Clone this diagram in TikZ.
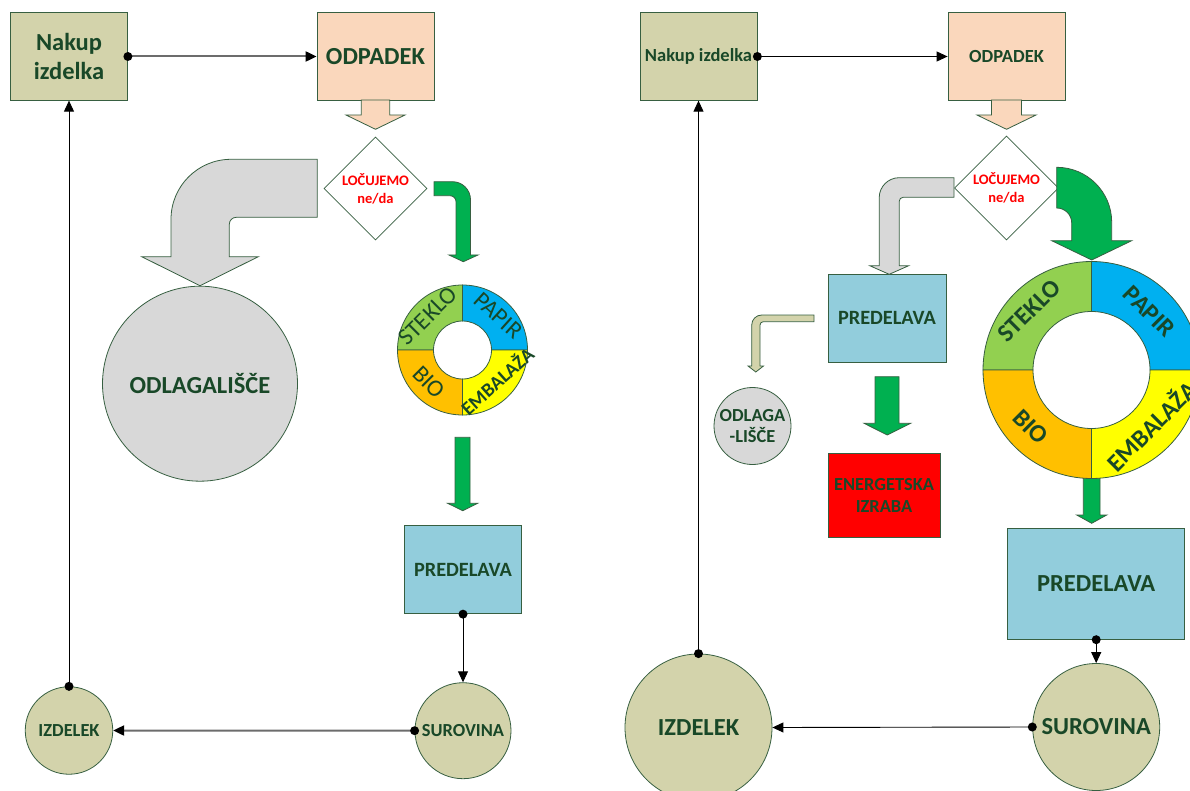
\documentclass[tikz,border=0pt]{standalone}
\usepackage{fontspec}
\setmainfont{Carlito}
\usetikzlibrary{arrows.meta,shapes.geometric}

\definecolor{edge}{RGB}{55,95,65}
\definecolor{txt}{RGB}{25,72,40}
\definecolor{tanfill}{RGB}{211,211,171}
\definecolor{peach}{RGB}{250,215,188}
\definecolor{ash}{RGB}{216,216,216}
\definecolor{sky}{RGB}{146,205,220}
\definecolor{leaf}{RGB}{0,176,80}
\definecolor{glass}{RGB}{146,208,80}
\definecolor{paper}{RGB}{0,176,240}
\definecolor{biowaste}{RGB}{255,192,0}
\definecolor{pack}{RGB}{255,255,0}

\tikzset{
	box/.style={draw=edge,line width=0.8pt,inner sep=0pt,align=center,text=txt,
		font=\bfseries\fontsize{24.5}{29}\selectfont},
	blob/.style={box,circle},
	blockarrow/.style={draw=edge,line width=0.8pt},
	ringthin/.style={inner sep=0pt,text=txt,font=\fontsize{24}{24}\selectfont},
	ringbold/.style={inner sep=0pt,text=txt,font=\bfseries\fontsize{25}{25}\selectfont},
	link/.style={line width=0.9pt,-{Triangle[length=11pt,width=10pt]}},
	greylink/.style={link,draw=gray!85!black,line width=2pt,-{Triangle[length=11pt,width=10pt,color=black]}}
}

\begin{document}
\begin{tikzpicture}[x=1pt,y=-1pt]
	\useasboundingbox (0,0) rectangle (1190,791);
	
	%left boxes
	\node[box,fill=tanfill,minimum width=117,minimum height=87.5] (nak1) at (69,56.5) {Nakup\\izdelka};
	\node[box,fill=peach,minimum width=117,minimum height=87.5] (odp1) at (375.5,56.5) {ODPADEK};
	\node[box,diamond,fill=white,minimum width=103,minimum height=103,text=red,
		font=\bfseries\fontsize{14.5}{18}\selectfont] (loc1) at (375.5,188.5) {LOČUJEMO\\ne/da};
	\node[blob,fill=ash,minimum size=195] (odl1) at (200,383.7) {ODLAGALIŠČE};
	\coordinate (R1) at (462.5,350);
	\node[box,fill=sky,minimum width=117,minimum height=88.5,
		font=\bfseries\fontsize{20.3}{24}\selectfont] (pred1) at (463,569.5) {PREDELAVA};
	\node[blob,fill=tanfill,minimum size=96,font=\bfseries\fontsize{18.4}{22}\selectfont] (sur1) at (463,730.7) {SUROVINA};
	\node[blob,fill=tanfill,minimum size=87.5,font=\bfseries\fontsize{18.4}{22}\selectfont] (izd1) at (69,730.5) {IZDELEK};
	
	%right boxes
	\node[box,fill=tanfill,minimum width=117,minimum height=87.5,
		font=\bfseries\fontsize{18.5}{22}\selectfont] (nak2) at (698.5,56.5) {Nakup izdelka};
	\node[box,fill=peach,minimum width=117,minimum height=87.5,
		font=\bfseries\fontsize{18.5}{22}\selectfont] (odp2) at (1006.5,56.5) {ODPADEK};
	\node[box,diamond,fill=white,minimum width=104,minimum height=104,text=red,
		font=\bfseries\fontsize{14.5}{18}\selectfont] (loc2) at (1006.5,188) {LOČUJEMO\\ne/da};
	\node[box,fill=sky,minimum width=118,minimum height=88,
		font=\bfseries\fontsize{20.3}{24}\selectfont] (pred2) at (887,318.3) {PREDELAVA};
	\node[blob,fill=ash,minimum size=77,font=\bfseries\fontsize{18.4}{21.7}\selectfont] (odl2) at (752.5,426) {ODLAGA\\-LIŠČE};
	\node[box,fill=red,minimum width=112,minimum height=83.6,
		font=\bfseries\fontsize{18.4}{22.7}\selectfont] (ener) at (884,495.5) {ENERGETSKA\\IZRABA};
	\coordinate (R2) at (1091.5,370);
	\node[box,fill=sky,minimum width=177,minimum height=110.6] (pred3) at (1096.2,584) {PREDELAVA};
	\node[blob,fill=tanfill,minimum size=127] (sur2) at (1096.2,727) {SUROVINA};
	\node[blob,fill=tanfill,minimum size=147] (izd2) at (698.5,727.5) {IZDELEK};
	
	%left block arrows
	\filldraw[blockarrow,fill=peach] (361.3,100) -- (361.3,115) -- (346,115) -- (375.5,129.3) -- (405,115) -- (389.7,115) -- (389.7,100) -- cycle;
	\filldraw[blockarrow,fill=ash] (317.3,159.3) -- (231,159.3) arc[start angle=-90,end angle=-180,radius=60]
		-- (171,256.7) -- (141.7,256.7) -- (200,285.7) -- (258.3,256.7) -- (229.3,256.7) -- (229.3,224.3)
		arc[start angle=-180,end angle=-90,radius=7] -- (317.3,217.3) -- cycle;
	\filldraw[blockarrow,fill=leaf] (434,181.7) -- (452.5,181.7) arc[start angle=-90,end angle=0,radius=18]
		-- (470.5,255) -- (478,255) -- (463.3,261.7) -- (449,255) -- (456,255) -- (456,201.7)
		arc[start angle=0,end angle=-90,radius=6] -- (434,195.7) -- cycle;
	\filldraw[blockarrow,fill=leaf] (455,437.3) -- (455,503.3) -- (447.7,503.3) -- (462.7,510.7) -- (477.7,503.3) -- (470,503.3) -- (470,437.3) -- cycle;
	
	%right block arrows
	\filldraw[blockarrow,fill=peach] (991.5,100) -- (991.5,115) -- (977,115) -- (1006.5,129.3) -- (1036,115) -- (1021.5,115) -- (1021.5,100) -- cycle;
	\filldraw[blockarrow,fill=ash] (954,177.7) -- (899.2,177.7) arc[start angle=-90,end angle=-180,radius=20]
		-- (879.2,265.7) -- (869.7,265.7) -- (889.2,274.3) -- (908.7,265.7) -- (899.2,265.7) -- (899.2,201.3)
		arc[start angle=-180,end angle=-90,radius=4] -- (954,197.3) -- cycle;
	\filldraw[blockarrow,fill=tanfill] (814,315) -- (761.7,315) arc[start angle=-90,end angle=-180,radius=10]
		-- (751.7,366) -- (748,366) -- (755.8,372) -- (763.5,366) -- (760,366) -- (760,325)
		arc[start angle=-180,end angle=-90,radius=3.3] -- (814,321.7) -- cycle;
	\filldraw[blockarrow,fill=leaf] (875,376.7) -- (875,423.3) -- (864,423.3) -- (887.3,435) -- (910.7,423.3) -- (899,423.3) -- (899,376.7) -- cycle;
	\filldraw[blockarrow,fill=leaf] (1056.7,167.3) arc[start angle=-90,end angle=0,radius=55]
		-- (1111.7,240.7) -- (1131.7,240.7) -- (1091.7,260) -- (1051.7,240.7) -- (1071.7,240.7) -- (1071.7,223)
		arc[start angle=0,end angle=-90,radius=15] -- cycle;
	\filldraw[blockarrow,fill=leaf] (1083.3,478.3) -- (1083.3,515) -- (1076.7,515) -- (1091.7,523.3) -- (1106.7,515) -- (1100,515) -- (1100,478.3) -- cycle;
	
	%rings
	\foreach \s/\c in {0/paper,90/glass,180/biowaste,270/pack}{
		\filldraw[fill=\c,draw=edge,line width=0.8pt,shift={(R1)}] (-\s:65) arc[start angle=-\s,delta angle=-90,radius=65]
			-- (-\s-90:29) arc[start angle=-\s-90,delta angle=90,radius=29] -- cycle;
		\filldraw[fill=\c,draw=edge,line width=0.8pt,shift={(R2)}] (-\s:108.5) arc[start angle=-\s,delta angle=-90,radius=108.5]
			-- (-\s-90:58.5) arc[start angle=-\s-90,delta angle=90,radius=58.5] -- cycle;
	}
	
	%ring labels
	\node[ringthin,rotate=45] (stek1) at (428,316) {STEKLO};
	\node[ringthin,rotate=-42] (pap1) at (498.3,315.5) {PAPIR};
	\node[ringthin,rotate=-45] (bio1) at (429,382) {BIO};
	\node[ringthin,font=\bfseries\fontsize{19.5}{19.5}\selectfont,rotate=42] (emb1) at (496.7,380.5) {EMBALAŽA};
	\node[ringbold,rotate=45] (stek2) at (1029.2,310.8) {STEKLO};
	\node[ringbold,rotate=-45] (pap2) at (1149.2,311.7) {PAPIR};
	\node[ringbold,rotate=-45] (bio2) at (1030.8,426.7) {BIO};
	\node[ringbold,rotate=45] (emb2) at (1150.8,425) {EMBALAŽA};
	
	%left connectors
	\draw[greylink] (nak1.east) -- (odp1.west);
	\draw[link] (izd1.north) -- (nak1.south);
	\draw[link] (pred1.south) -- (sur1.north);
	\draw[greylink] (sur1.west) -- (izd1.east);
	
	%right connectors
	\draw[link] (nak2.east) -- (odp2.west);
	\draw[link] (izd2.north) -- (nak2.south);
	\draw[link] (pred3.south) -- (sur2.north);
	\draw[link] (sur2.west) -- (izd2.east);
	
	%dots
	\foreach \p in {nak1.east,izd1.north,pred1.south,sur1.west,nak2.east,izd2.north,pred3.south,sur2.west}
		\fill (\p) circle (4.5);
	
\end{tikzpicture}
\end{document}
